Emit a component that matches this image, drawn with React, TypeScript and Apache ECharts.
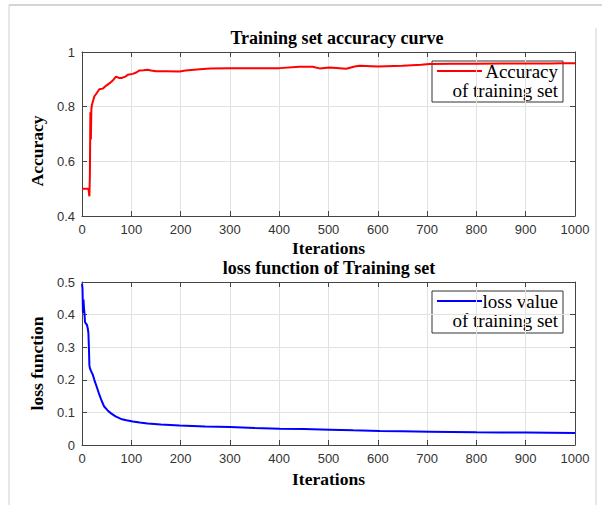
import React, { useEffect, useRef } from "react";
import * as echarts from "echarts";

// Training accuracy per iteration
const accIter = [0, 13, 15, 16, 17, 18, 19, 20, 25, 30, 35, 42, 50, 56, 63, 69, 75, 80, 88, 93, 103, 110, 116, 125, 133, 140, 150, 170, 198, 210, 239, 260, 300, 350, 401, 441, 468, 482, 502, 536, 553, 563, 600, 650, 688, 705, 750, 800, 850, 900, 950, 975, 1000];
const accValue = [0.5, 0.5, 0.472, 0.55, 0.78, 0.68, 0.79, 0.806, 0.837, 0.85, 0.864, 0.866, 0.878, 0.886, 0.897, 0.91, 0.905, 0.905, 0.91, 0.917, 0.92, 0.925, 0.932, 0.933, 0.935, 0.932, 0.93, 0.93, 0.929, 0.932, 0.937, 0.94, 0.941, 0.941, 0.941, 0.946, 0.946, 0.94, 0.943, 0.939, 0.947, 0.95, 0.947, 0.95, 0.953, 0.956, 0.957, 0.957, 0.958, 0.958, 0.958, 0.959, 0.959];

// Training loss per iteration
const lossIter = [0, 1, 2, 3, 4, 5, 6, 8, 10, 12, 13, 14, 15, 16, 18, 22, 25, 30, 35, 40, 45, 52, 59, 68, 79, 90, 103, 117, 133, 160, 198, 250, 300, 350, 401, 450, 502, 550, 604, 650, 705, 750, 800, 850, 901, 950, 1000];
const lossValue = [0.495, 0.48, 0.405, 0.446, 0.42, 0.405, 0.378, 0.372, 0.369, 0.355, 0.343, 0.3, 0.245, 0.236, 0.228, 0.215, 0.2, 0.178, 0.155, 0.135, 0.118, 0.106, 0.097, 0.088, 0.08, 0.076, 0.072, 0.069, 0.066, 0.063, 0.06, 0.057, 0.055, 0.052, 0.05, 0.049, 0.047, 0.045, 0.043, 0.042, 0.041, 0.04, 0.039, 0.0385, 0.038, 0.0375, 0.037];

const accTitle = "Training set accuracy curve";
const lossTitle = "loss function of Training set";
const xName = "Iterations";
const accName = "Accuracy";
const lossName = "loss function";
const accLegend = ["Accuracy", "of training set"];
const lossLegend = ["loss value", "of training set"];

const SERIF = "'Liberation Serif', 'Times New Roman', serif";
const SANS = "'Liberation Sans', Arial, sans-serif";
const AXIS_COLOR = "#444";
const GRID_COLOR = "#e2e2e2";
const plain = (v: number) => String(v);

function xAxes(gridIndex: number, nameGap: number) {
  const common = {
    gridIndex,
    type: "value" as const,
    min: 0,
    max: 1000,
    interval: 100,
    axisLine: { show: true, onZero: false, lineStyle: { color: AXIS_COLOR, width: 1 } },
    axisTick: { show: true, inside: true, length: 5, lineStyle: { color: AXIS_COLOR } },
  };
  return [
    {
      ...common,
      position: "bottom",
      axisLabel: { margin: 7, color: "#333", fontFamily: SANS, fontSize: 13, formatter: plain },
      splitLine: { show: true, lineStyle: { color: GRID_COLOR } },
      name: xName,
      nameLocation: "middle",
      nameGap,
      nameTextStyle: { fontFamily: SERIF, fontWeight: "bold", fontSize: 17.5, color: "#000" },
    },
    {
      ...common,
      position: "top",
      axisLabel: { show: false },
      splitLine: { show: false },
    },
  ];
}

function yAxes(gridIndex: number, min: number, max: number, interval: number, name: string, padding: number[]) {
  const common = {
    gridIndex,
    type: "value" as const,
    min,
    max,
    interval,
    axisLine: { show: true, onZero: false, lineStyle: { color: AXIS_COLOR, width: 1 } },
    axisTick: { show: true, inside: true, length: 5, lineStyle: { color: AXIS_COLOR } },
  };
  return [
    {
      ...common,
      position: "left",
      axisLabel: { margin: 7, color: "#333", fontFamily: SANS, fontSize: 13, formatter: plain },
      splitLine: { show: true, lineStyle: { color: GRID_COLOR } },
      name,
      nameLocation: "middle",
      nameGap: 26,
      nameTextStyle: { fontFamily: SERIF, fontWeight: "bold", fontSize: 17.5, color: "#000", padding },
    },
    {
      ...common,
      position: "right",
      axisLabel: { show: false },
      splitLine: { show: false },
    },
  ];
}

function legendBox(x: number, y: number, h: number, color: string, lines: string[]) {
  return {
    type: "group",
    z: 100,
    children: [
      {
        type: "rect",
        shape: { x, y, width: 131, height: h },
        style: { fill: "#fff", stroke: "#333", lineWidth: 1 },
      },
      {
        type: "line",
        shape: { x1: x + 5, y1: y + 10, x2: x + 50, y2: y + 10 },
        style: { stroke: color, lineWidth: 2 },
      },
      {
        type: "text",
        x: x + 126,
        y: y + 10,
        style: { text: lines[0], align: "right", verticalAlign: "middle", font: `19px ${SERIF}`, fill: "#000" },
      },
      {
        type: "text",
        x: x + 126,
        y: y + 29,
        style: { text: lines[1], align: "right", verticalAlign: "middle", font: `19px ${SERIF}`, fill: "#000" },
      },
    ],
  };
}

export default function App() {
  const ref = useRef<HTMLDivElement>(null);

  useEffect(() => {
    if (!ref.current) return;
    const chart = echarts.init(ref.current, null, { renderer: "svg" });
    chart.setOption({
      animation: false,
      backgroundColor: "#fff",
      grid: [
        { left: 82, top: 52, width: 493, height: 164 },
        { left: 82, top: 282, width: 493, height: 163 },
      ],
      xAxis: [...xAxes(0, 23), ...xAxes(1, 25)],
      yAxis: [
        ...yAxes(0, 0.4, 1, 0.2, accName, [0, 34, 0, 0]),
        ...yAxes(1, 0, 0.5, 0.1, lossName, [0, 0, 0, 0]),
      ],
      series: [
        {
          name: accLegend.join(" "),
          type: "line",
          xAxisIndex: 0,
          yAxisIndex: 0,
          showSymbol: false,
          lineStyle: { color: "#ff0000", width: 2 },
          itemStyle: { color: "#ff0000" },
          data: accIter.map((it, i) => [it, accValue[i]]),
        },
        {
          name: lossLegend.join(" "),
          type: "line",
          xAxisIndex: 2,
          yAxisIndex: 2,
          showSymbol: false,
          lineStyle: { color: "#0000ff", width: 2 },
          itemStyle: { color: "#0000ff" },
          data: lossIter.map((it, i) => [it, lossValue[i]]),
        },
      ],
      graphic: [
        // figure frame
        { type: "line", shape: { x1: 9, y1: 5, x2: 602, y2: 5 }, style: { stroke: "#aaa", lineWidth: 1 } },
        { type: "line", shape: { x1: 9, y1: 5, x2: 9, y2: 505 }, style: { stroke: "#d0d0d0", lineWidth: 1 } },
        { type: "line", shape: { x1: 596, y1: 28, x2: 596, y2: 505 }, style: { stroke: "#d0d0d0", lineWidth: 1 } },
        // subplot titles
        {
          type: "text",
          x: 337,
          y: 38,
          style: { text: accTitle, align: "center", verticalAlign: "middle", font: `bold 18px ${SERIF}`, fill: "#000" },
        },
        {
          type: "text",
          x: 329,
          y: 268,
          style: { text: lossTitle, align: "center", verticalAlign: "middle", font: `bold 18px ${SERIF}`, fill: "#000" },
        },
        legendBox(432, 61, 41, "#ff0000", accLegend),
        legendBox(432, 291, 42, "#0000ff", lossLegend),
      ],
    });
    return () => chart.dispose();
  }, []);

  return (
    <div
      ref={ref}
      style={{ position: "fixed", left: 0, top: 0, width: 602, height: 505, background: "#fff" }}
    />
  );
}
